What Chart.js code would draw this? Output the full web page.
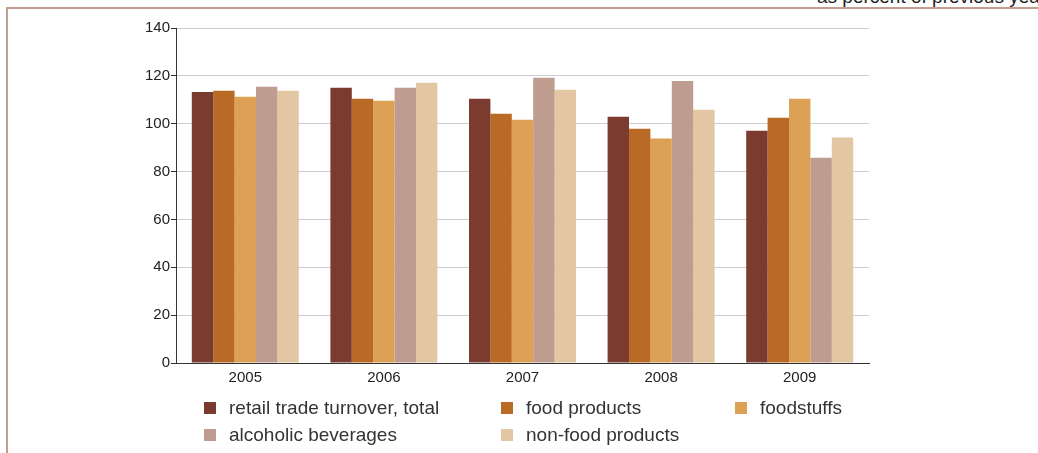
<!DOCTYPE html>
<html>
<head>
<meta charset="utf-8">
<script src="https://cdn.jsdelivr.net/npm/chart.js@4"></script>
<style>
  body { margin: 0; background: #fff; font-family: "Liberation Sans", Arial, sans-serif; }
  #wrap { position: relative; width: 1038px; height: 453px; overflow: hidden; }
  #frameTop { position: absolute; left: 6px; top: 7px; width: 1032px; height: 2px; background: #c29e90; }
  #frameLeft { position: absolute; left: 6px; top: 7px; width: 2px; height: 446px; background: #c29e90; }
  #unit { position: absolute; left: 817px; top: -14px; font-size: 19px; color: #222; white-space: nowrap; }
  #chartBox { position: absolute; left: 0; top: 0; width: 1038px; height: 453px; }
  #legend { position: absolute; left: 204px; top: 397px; }
  .item { position: absolute; white-space: nowrap; font-size: 19px; color: #333; }
  .item span.box { position: absolute; left: 0; top: 5px; width: 12px; height: 12px; }
  .item span.lbl { position: absolute; left: 25px; top: 0; }
</style>
</head>
<body>
<div id="wrap">
  <div id="frameTop"></div>
  <div id="frameLeft"></div>
  <div id="unit">as percent of previous year</div>
  <div id="chartBox"><canvas id="chart" width="1038" height="453"></canvas></div>
  <div id="legend"></div>
</div>
<script>
const years = ['2005', '2006', '2007', '2008', '2009'];
const seriesNames = ['retail trade turnover, total', 'food products', 'foodstuffs', 'alcoholic beverages', 'non-food products'];
const retailTotal = [113.3, 115.0, 110.4, 102.9, 97.1];
const foodProducts = [113.8, 110.4, 104.2, 97.9, 102.5];
const foodstuffs = [111.3, 109.6, 101.7, 93.8, 110.4];
const alcoholic = [115.4, 115.0, 119.2, 117.9, 85.8];
const nonFood = [113.8, 117.1, 114.2, 105.8, 94.2];
const yTicks = [0, 20, 40, 60, 80, 100, 120, 140];
const colors = ['#7b3b2f', '#b96a25', '#dca155', '#be9c90', '#e3c7a5'];

const seriesValues = [retailTotal, foodProducts, foodstuffs, alcoholic, nonFood];

function buildLegend() {
    const legend = document.getElementById('legend');
    // three columns, two rows like the original
    const colX = [0, 297, 531];
    seriesNames.forEach((name, i) => {
        const div = document.createElement('div');
        div.className = 'item';
        div.style.left = colX[i % 3] + 'px';
        div.style.top = (Math.floor(i / 3) * 27) + 'px';
        div.innerHTML = '<span class="box" style="background:' + colors[i] + '"></span><span class="lbl">' + name + '</span>';
        legend.appendChild(div);
    });
}

function drawChart() {
    const ctx = document.getElementById('chart').getContext('2d');
    new Chart(ctx, {
        type: 'bar',
        data: {
            labels: years,
            datasets: seriesNames.map((name, i) => ({
                label: name,
                data: seriesValues[i],
                backgroundColor: colors[i],
                borderWidth: 0,
                categoryPercentage: 0.772,
                barPercentage: 1
            }))
        },
        options: {
            responsive: false,
            animation: false,
            layout: { padding: { top: 28, right: 169, left: 0, bottom: 0 } },
            plugins: {
                legend: { display: false },
                tooltip: { enabled: false }
            },
            scales: {
                x: {
                    grid: { display: false, drawTicks: false },
                    border: { display: true, color: '#333', width: 1 },
                    ticks: { color: '#222', font: { family: 'Liberation Sans', size: 15 }, padding: 6 },
                    afterFit: (scale) => { scale.height = 90; }
                },
                y: {
                    min: 0,
                    max: 140,
                    afterBuildTicks: (scale) => { scale.ticks = yTicks.map(v => ({ value: v })); },
                    grid: { color: '#cccccc', lineWidth: 1, tickLength: 5, tickColor: '#333' },
                    border: { display: true, color: '#333', width: 1 },
                    ticks: { color: '#222', font: { family: 'Liberation Sans', size: 15 }, padding: 1 },
                    afterFit: (scale) => { scale.width = 176; }
                }
            }
        }
    });
}

buildLegend();
drawChart();
</script>
</body>
</html>
